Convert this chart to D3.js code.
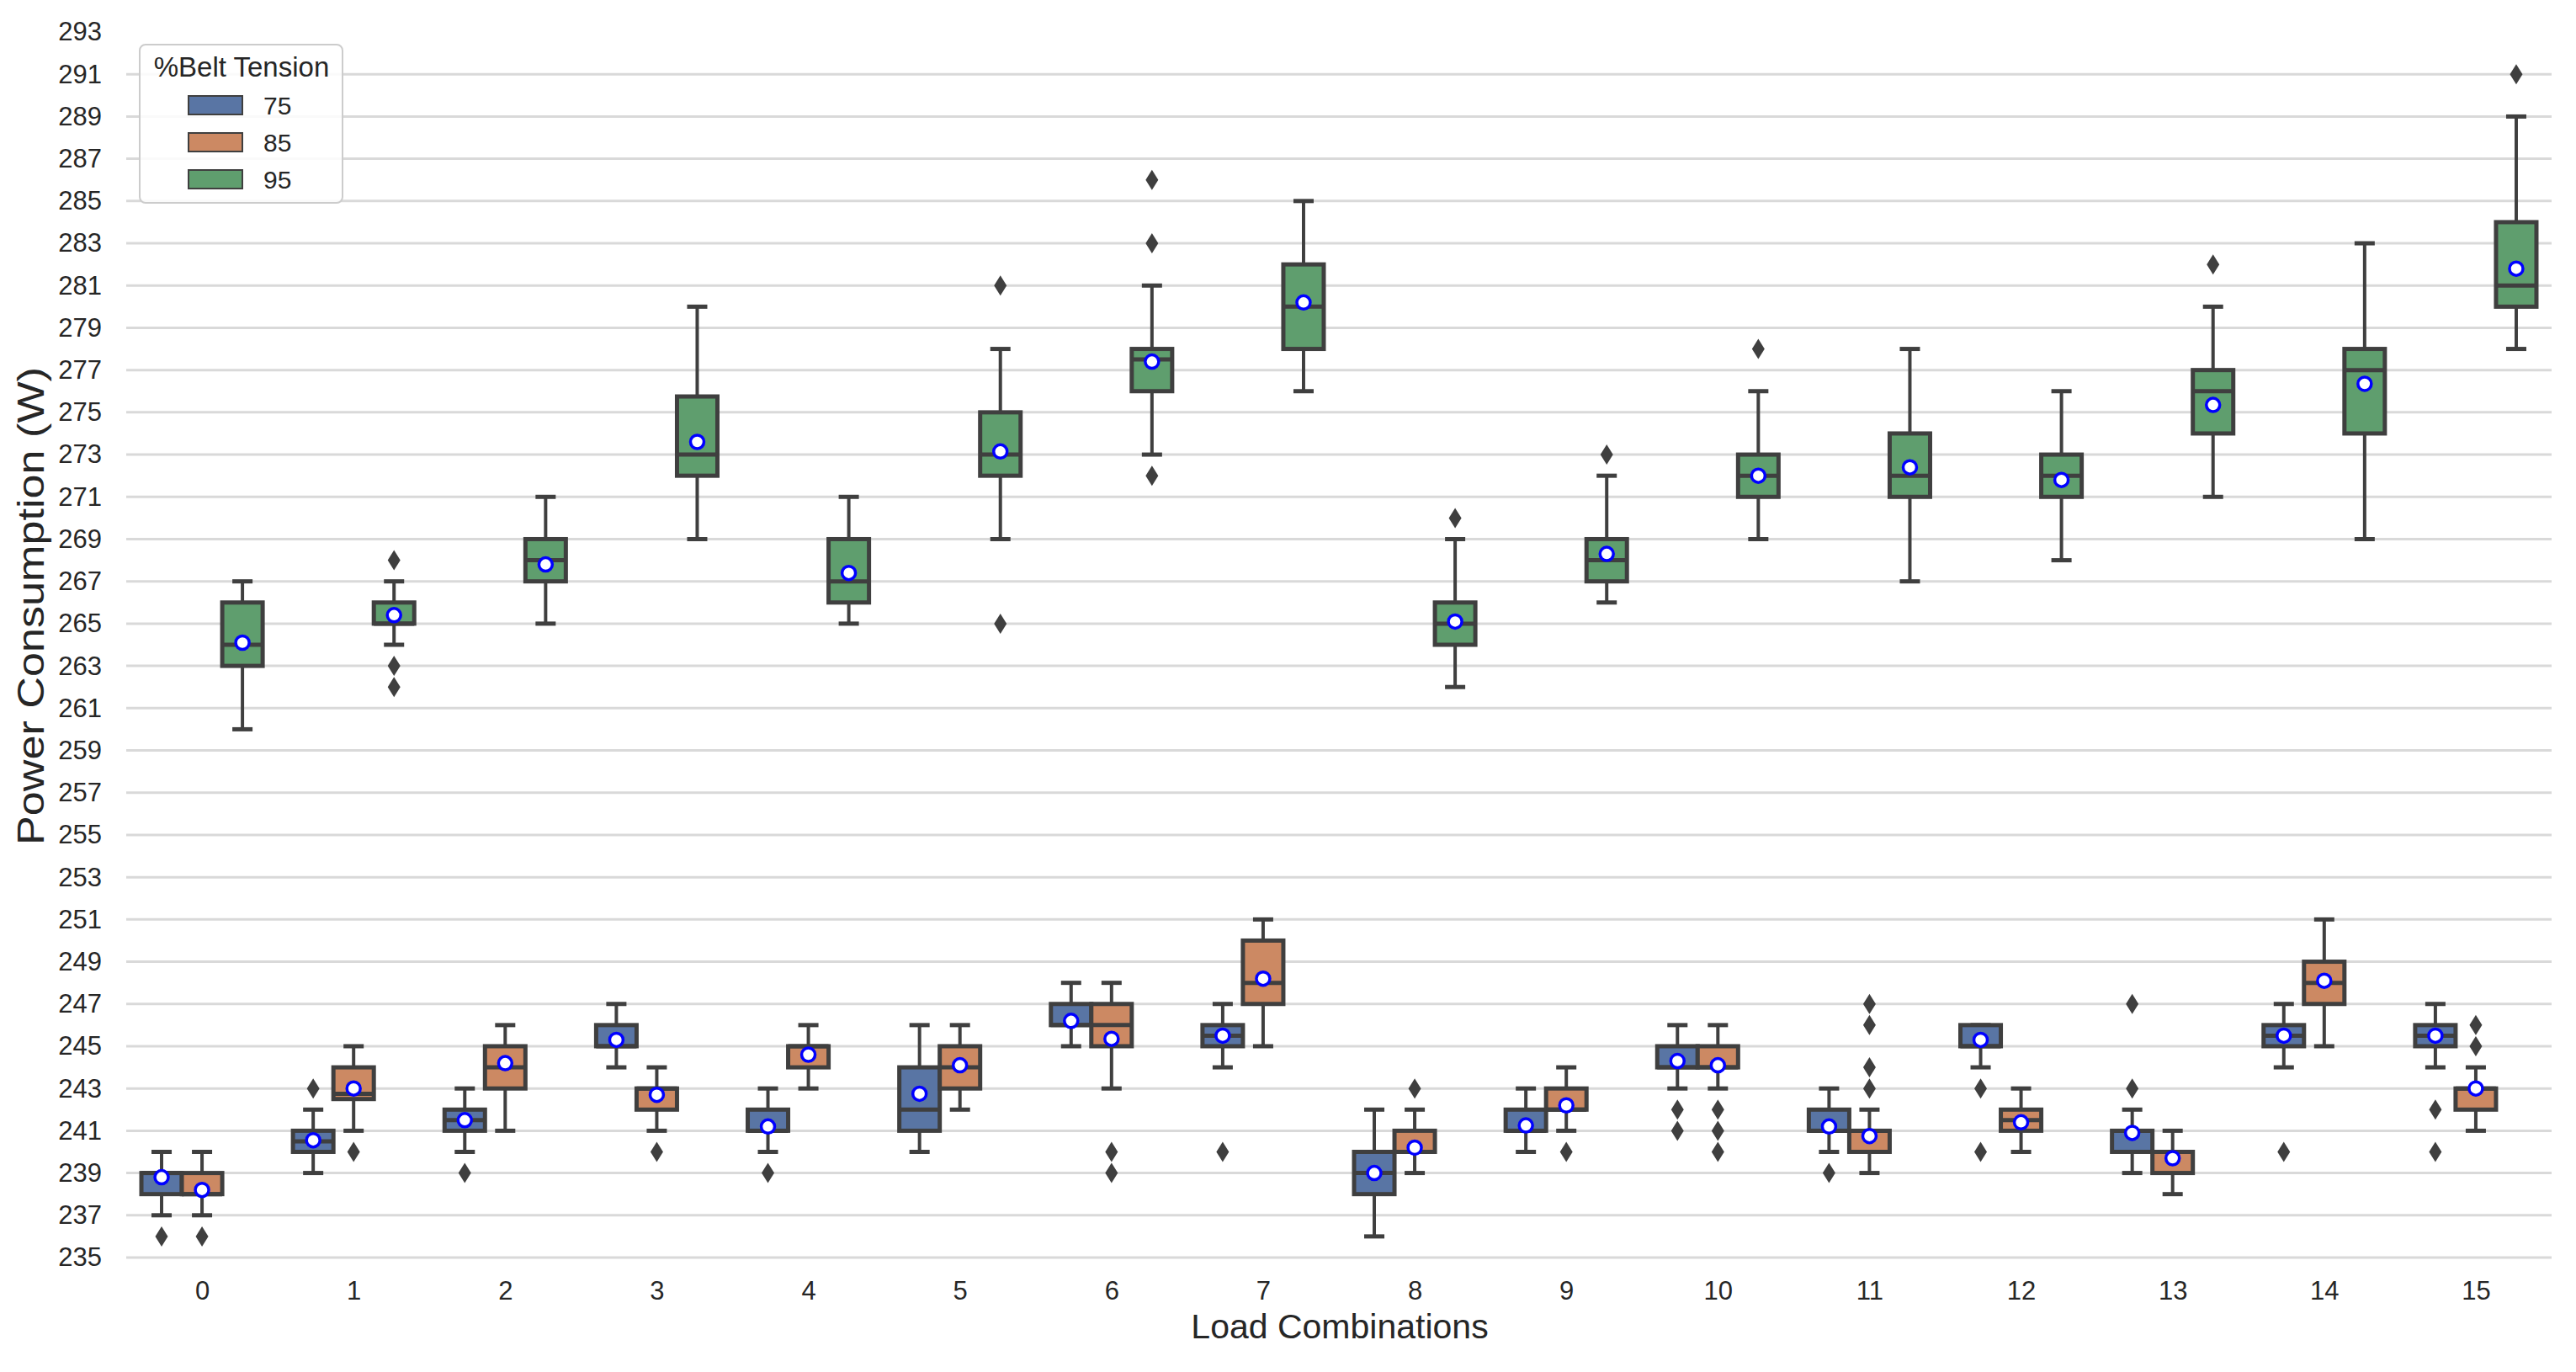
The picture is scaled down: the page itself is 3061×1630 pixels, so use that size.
<!DOCTYPE html>
<html>
<head>
<meta charset="utf-8">
<script src="https://cdn.jsdelivr.net/npm/d3@7"></script>
<style>
    body { margin: 0; background: #ffffff; }
    svg text { font-family: "Liberation Sans", Arial, sans-serif; fill: #262626; }
</style>
</head>
<body>
<svg id="chart" width="3061" height="1630"></svg>
<script>
// Load combinations on the x axis and belt tension hue levels
const categories = d3.range(16);
const hues = ['75', '85', '95'];
const hueColors = ['#5975a4', '#cc8963', '#5f9e6e'];
const yTicks = d3.range(235, 294, 2);

// box statistics, one row per hue (75, 85, 95), one value per load combination
const whiskerLow = [
    [237, 239, 240, 244, 240, 240, 245, 244, 236, 240, 243, 240, 244, 239, 244, 244],
    [237, 241, 241, 241, 243, 242, 243, 245, 239, 241, 243, 239, 240, 238, 245, 241],
    [260, 264, 265, 269, 265, 269, 273, 276, 262, 266, 269, 267, 268, 271, 269, 278]
];
const q1 = [
    [238, 240, 241, 245, 241, 241, 246, 245, 238, 241, 244, 241, 245, 240, 245, 245],
    [238, 242.5, 243, 242, 244, 243, 245, 247, 240, 242, 244, 240, 241, 239, 247, 242],
    [263, 265, 267, 272, 266, 272, 276, 278, 264, 267, 271, 271, 271, 274, 274, 280]
];
const medians = [
    [239, 240.5, 241.5, 245, 241, 242, 246, 245.5, 239, 241, 244, 241, 245, 241, 245.5, 245.5],
    [238, 242.75, 244, 243, 245, 244, 246, 248, 240, 242, 244, 241, 241.5, 240, 248, 243],
    [264, 265, 268, 273, 267, 273, 277.5, 280, 265, 268, 272, 272, 272, 276, 277, 281]
];
const q3 = [
    [239, 241, 242, 246, 242, 244, 247, 246, 240, 242, 245, 242, 246, 241, 246, 246],
    [239, 244, 245, 243, 245, 245, 247, 250, 241, 243, 245, 241, 242, 240, 249, 243],
    [266, 266, 269, 275.75, 269, 275, 278, 282, 266, 269, 273, 274, 273, 277, 278, 284]
];
const whiskerHigh = [
    [240, 242, 243, 247, 243, 246, 248, 247, 242, 243, 246, 243, 246, 242, 247, 247],
    [240, 245, 246, 244, 246, 246, 248, 251, 242, 244, 246, 242, 243, 241, 251, 244],
    [267, 267, 271, 280, 271, 278, 281, 285, 269, 272, 276, 278, 276, 280, 283, 289]
];
const means = [
    [238.8, 240.55, 241.5, 245.3, 241.2, 242.75, 246.2, 245.5, 239.0, 241.25, 244.3, 241.2, 245.3, 240.9, 245.5, 245.5],
    [238.2, 243.0, 244.2, 242.7, 244.6, 244.1, 245.35, 248.2, 240.2, 242.2, 244.1, 240.75, 241.4, 239.7, 248.1, 243.0],
    [264.1, 265.4, 267.8, 273.6, 267.4, 273.15, 277.4, 280.2, 265.1, 268.3, 272.0, 272.4, 271.8, 275.35, 276.35, 281.8]
];
const outliers = [
    [[236], [243], [239], [], [239], [], [], [240], [], [], [242, 241], [239], [243, 240], [247, 243], [240], [242, 240]],
    [[236], [240], [], [240], [], [], [240, 239], [], [243], [240], [242, 241, 240], [247, 246, 244, 243], [], [], [], [246, 245]],
    [[], [268, 263, 262], [], [], [], [281, 265], [286, 283, 272], [], [270], [273], [278], [], [], [282], [], [291]]
];

const edge = '#3f3f3f';
const svg = d3.select('#chart');

const x = d3.scaleLinear().domain([-0.5, 15.5]).range([150, 3032]);
const y = d3.scaleLinear().domain([235, 293]).range([1494, 38]);
const hueOffset = d3.scaleBand().domain(hues).range([-0.4, 0.4]);
const boxW = x(hueOffset.bandwidth()) - x(0);

// horizontal grid (no line on the top tick, as in the picture)
svg.append('g')
    .selectAll('line')
    .data(yTicks.filter(v => v < 293))
    .enter()
    .append('line')
    .attr('x1', x(-0.5))
    .attr('x2', x(15.5))
    .attr('y1', d => y(d))
    .attr('y2', d => y(d))
    .attr('stroke', '#d9d9d9')
    .attr('stroke-width', 3);

// axes
const yAxis = svg.append('g')
    .attr('transform', `translate(${x(-0.5)},0)`)
    .call(d3.axisLeft(y).tickValues(yTicks).tickSize(0).tickPadding(29));
const xAxis = svg.append('g')
    .attr('transform', `translate(0,${y(235)})`)
    .call(d3.axisBottom(x).tickValues(categories).tickSize(0).tickPadding(28).tickFormat(d3.format('d')));
[yAxis, xAxis].forEach(a => {
    a.select('.domain').remove();
    a.selectAll('text').style('font-size', '31px').attr('fill', '#262626');
});

svg.append('text')
    .attr('x', 1592)
    .attr('y', 1590)
    .attr('text-anchor', 'middle')
    .style('font-size', '41px')
    .text('Load Combinations');

svg.append('text')
    .attr('transform', 'translate(52,720) rotate(-90)')
    .attr('text-anchor', 'middle')
    .attr('textLength', 568)
    .attr('lengthAdjust', 'spacingAndGlyphs')
    .style('font-size', '44px')
    .text('Power Consumption (W)');

// boxes
hues.forEach((hue, h) => {
    const g = svg.append('g').attr('class', 'hue-' + hue);
    categories.forEach(c => {
        const cx = x(c + hueOffset(hue) + hueOffset.bandwidth() / 2);
        const capHalf = boxW / 4;

        // whiskers
        g.append('line')
            .attr('x1', cx).attr('x2', cx)
            .attr('y1', y(whiskerLow[h][c])).attr('y2', y(q1[h][c]))
            .attr('stroke', edge).attr('stroke-width', 4);
        g.append('line')
            .attr('x1', cx).attr('x2', cx)
            .attr('y1', y(q3[h][c])).attr('y2', y(whiskerHigh[h][c]))
            .attr('stroke', edge).attr('stroke-width', 4);

        // caps
        [whiskerLow[h][c], whiskerHigh[h][c]].forEach(v => {
            g.append('line')
                .attr('x1', cx - capHalf).attr('x2', cx + capHalf)
                .attr('y1', y(v)).attr('y2', y(v))
                .attr('stroke', edge).attr('stroke-width', 5);
        });

        // box
        g.append('rect')
            .attr('x', cx - boxW / 2)
            .attr('y', y(q3[h][c]))
            .attr('width', boxW)
            .attr('height', y(q1[h][c]) - y(q3[h][c]))
            .attr('fill', hueColors[h])
            .attr('stroke', edge)
            .attr('stroke-width', 5);

        // median
        g.append('line')
            .attr('x1', cx - boxW / 2).attr('x2', cx + boxW / 2)
            .attr('y1', y(medians[h][c])).attr('y2', y(medians[h][c]))
            .attr('stroke', edge).attr('stroke-width', 5);

        // outliers as thin diamonds
        g.selectAll(null)
            .data(outliers[h][c])
            .enter()
            .append('path')
            .attr('transform', d => `translate(${cx},${y(d)})`)
            .attr('d', 'M0,-12L7.5,0L0,12L-7.5,0Z')
            .attr('fill', edge);

        // mean marker
        g.append('circle')
            .attr('cx', cx)
            .attr('cy', y(means[h][c]))
            .attr('r', 8)
            .attr('fill', '#ffffff')
            .attr('stroke', '#0000ff')
            .attr('stroke-width', 3.5);
    });
});

// legend
const legend = svg.append('g').attr('transform', 'translate(166,53)');
legend.append('rect')
    .attr('width', 241)
    .attr('height', 188)
    .attr('rx', 7)
    .attr('fill', '#ffffff')
    .attr('fill-opacity', 0.85)
    .attr('stroke', '#cccccc')
    .attr('stroke-width', 2);
legend.append('text')
    .attr('x', 121)
    .attr('y', 38)
    .attr('text-anchor', 'middle')
    .style('font-size', '33px')
    .text('%Belt Tension');
hues.forEach((hue, h) => {
    const row = legend.append('g').attr('transform', `translate(0,${61 + h * 44})`);
    row.append('rect')
        .attr('x', 58).attr('y', 0)
        .attr('width', 64).attr('height', 22)
        .attr('fill', hueColors[h])
        .attr('stroke', edge)
        .attr('stroke-width', 2);
    row.append('text')
        .attr('x', 147)
        .attr('y', 22)
        .style('font-size', '30px')
        .text(hue);
});
</script>
</body>
</html>
